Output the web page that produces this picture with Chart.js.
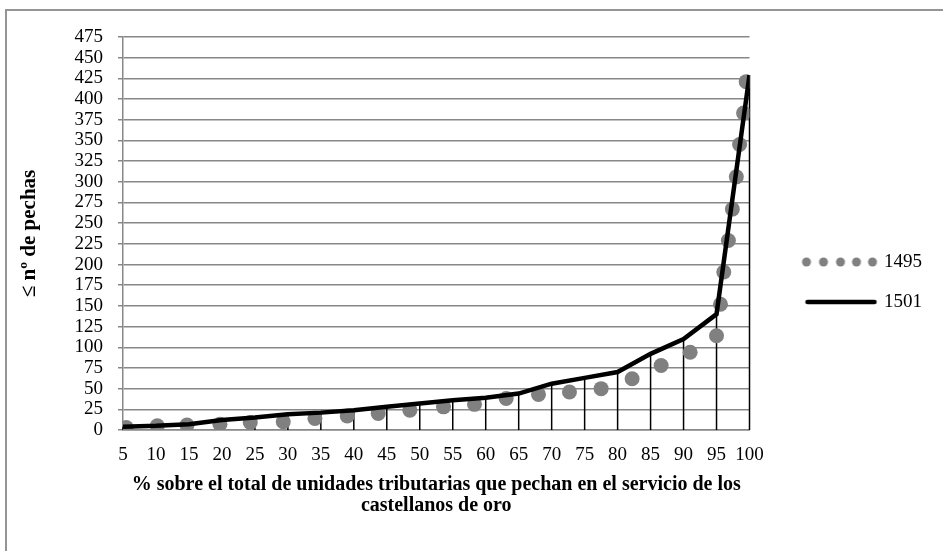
<!DOCTYPE html>
<html lang="es">
<head>
    <meta charset="UTF-8">
    <meta name="viewport" content="width=device-width, initial-scale=1.0">
    <title>nº de pechas</title>
    <script src="https://cdn.jsdelivr.net/npm/chart.js"></script>
    <style>
        html, body {
            margin: 0;
            padding: 0;
            background: #fff;
            overflow: hidden;
        }
        /* marco gris del gráfico, cortado a la derecha y abajo */
        #marco {
            position: absolute;
            left: 5px;
            top: 9px;
            width: 2000px;
            height: 2000px;
            border-left: 2px solid #959595;
            border-top: 2px solid #959595;
        }
        #chart-container {
            position: absolute;
            left: 0;
            top: 0;
            width: 943px;
            height: 551px;
        }
    </style>
</head>
<body>
    <div id="marco"></div>
    <div id="chart-container">
        <canvas id="lineChart"></canvas>
    </div>
    <script>
        // 1501: un punto por categoría (5, 10, ... 100)
        var pct1501 = [5, 10, 15, 20, 25, 30, 35, 40, 45, 50, 55, 60, 65, 70, 75, 80, 85, 90, 95, 100];
        var pechas1501 = [4, 5, 7, 12, 15, 19, 21, 24, 28, 32, 36, 39, 44, 56, 63, 70, 92, 110, 140, 429];

        // 1495: serie de puntos
        var pct1495 = [5.5, 10.2, 14.7, 19.7, 24.3, 29.3, 34.1, 39, 43.7, 48.5, 53.6, 58.3, 63.1, 68, 72.7, 77.5,
                       82.2, 86.6, 91, 95, 95.6, 96.1, 96.8, 97.4, 98, 98.5, 99.1, 99.5];
        var pechas1495 = [3, 5, 6, 7, 9, 10, 14, 17, 20, 24, 28, 31, 38, 43, 46, 50,
                          62, 78, 94, 114, 152, 191, 229, 267, 306, 345, 383, 421];

        // ejes
        var xMin = 5, xMax = 100, xStep = 5;
        var yMin = 0, yMax = 475, yStep = 25;

        var serif = "'Liberation Serif', 'Times New Roman', serif";

        function toPoints(xs, ys) {
            return xs.map(function(x, i) { return { x: x, y: ys[i] }; });
        }

        // marcas de la leyenda
        function markDots() {
            var c = document.createElement('canvas');
            c.width = 112; c.height = 12;
            var g = c.getContext('2d');
            g.fillStyle = '#808080';
            [40, 57, 74, 90, 106].forEach(function(x) {
                g.beginPath();
                g.arc(x, 6, 4.5, 0, Math.PI * 2);
                g.fill();
            });
            return c;
        }

        function markLine() {
            var c = document.createElement('canvas');
            c.width = 112; c.height = 12;
            var g = c.getContext('2d');
            g.strokeStyle = '#000';
            g.lineWidth = 4.5;
            g.lineCap = 'round';
            g.beginPath();
            g.moveTo(41, 6);
            g.lineTo(108, 6);
            g.stroke();
            return c;
        }

        var legendMarks = [markDots(), markLine()];

        // líneas de unión desde cada punto de 1501 hasta el eje
        var dropLines = {
            id: 'dropLines',
            beforeDatasetsDraw: function(chart) {
                var meta = chart.getDatasetMeta(1);
                var base = chart.scales.y.getPixelForValue(0);
                var ctx = chart.ctx;
                ctx.save();
                ctx.strokeStyle = '#000';
                ctx.lineWidth = 1.5;
                meta.data.forEach(function(pt) {
                    ctx.beginPath();
                    ctx.moveTo(pt.x, pt.y);
                    ctx.lineTo(pt.x, base);
                    ctx.stroke();
                });
                ctx.restore();
            }
        };

        var ctx = document.getElementById('lineChart').getContext('2d');
        var myChart = new Chart(ctx, {
            type: 'line',
            data: {
                datasets: [
                    {
                        label: '1495',
                        data: toPoints(pct1495, pechas1495),
                        showLine: false,
                        pointRadius: 7.5,
                        pointBorderWidth: 0,
                        pointBackgroundColor: '#808080',
                        borderWidth: 0,
                        order: 1
                    },
                    {
                        label: '1501',
                        data: toPoints(pct1501, pechas1501),
                        borderColor: '#000',
                        borderWidth: 4.5,
                        pointRadius: 0,
                        tension: 0,
                        fill: false,
                        order: 0
                    }
                ]
            },
            options: {
                responsive: true,
                maintainAspectRatio: false,
                animation: false,
                layout: {
                    padding: { top: 37, right: 11, bottom: 24, left: 0 }
                },
                plugins: {
                    tooltip: { enabled: false },
                    legend: {
                        position: 'right',
                        labels: {
                            usePointStyle: true,
                            pointStyleWidth: 104,
                            padding: 21,
                            color: '#000',
                            font: { family: serif, size: 19 },
                            sort: function(a, b) { return a.datasetIndex - b.datasetIndex; },
                            generateLabels: function(chart) {
                                var items = Chart.defaults.plugins.legend.labels.generateLabels(chart);
                                items.forEach(function(it) { it.pointStyle = legendMarks[it.datasetIndex]; });
                                return items;
                            }
                        }
                    }
                },
                scales: {
                    x: {
                        type: 'linear',
                        min: xMin,
                        max: xMax,
                        ticks: {
                            stepSize: xStep,
                            autoSkip: false,
                            maxRotation: 0,
                            padding: 14,
                            color: '#000',
                            font: { family: serif, size: 19 }
                        },
                        grid: { display: false, drawTicks: false },
                        border: { display: true, color: '#888', width: 1.5 },
                        title: {
                            display: true,
                            text: ['% sobre el total de unidades tributarias que pechan en el servicio de los',
                                   'castellanos de oro'],
                            color: '#000',
                            font: { family: serif, size: 20, weight: 'bold', lineHeight: 1.05 },
                            padding: { top: 0, bottom: 11 }
                        },
                        afterFit: function(s) { s.height = 97; }
                    },
                    y: {
                        min: yMin,
                        max: yMax,
                        ticks: {
                            stepSize: yStep,
                            autoSkip: false,
                            padding: 15,
                            color: '#000',
                            font: { family: serif, size: 19, lineHeight: 1 }
                        },
                        grid: { color: '#888', lineWidth: 1.5, tickLength: 5 },
                        border: { color: '#888', width: 1.5 },
                        title: {
                            display: true,
                            text: '≤ nº de pechas',
                            color: '#000',
                            font: { family: serif, size: 21, weight: 'bold' },
                            padding: { top: 17, bottom: 0 }
                        },
                        afterFit: function(s) { s.width = 123; }
                    }
                }
            },
            plugins: [dropLines]
        });
    </script>
</body>
</html>
